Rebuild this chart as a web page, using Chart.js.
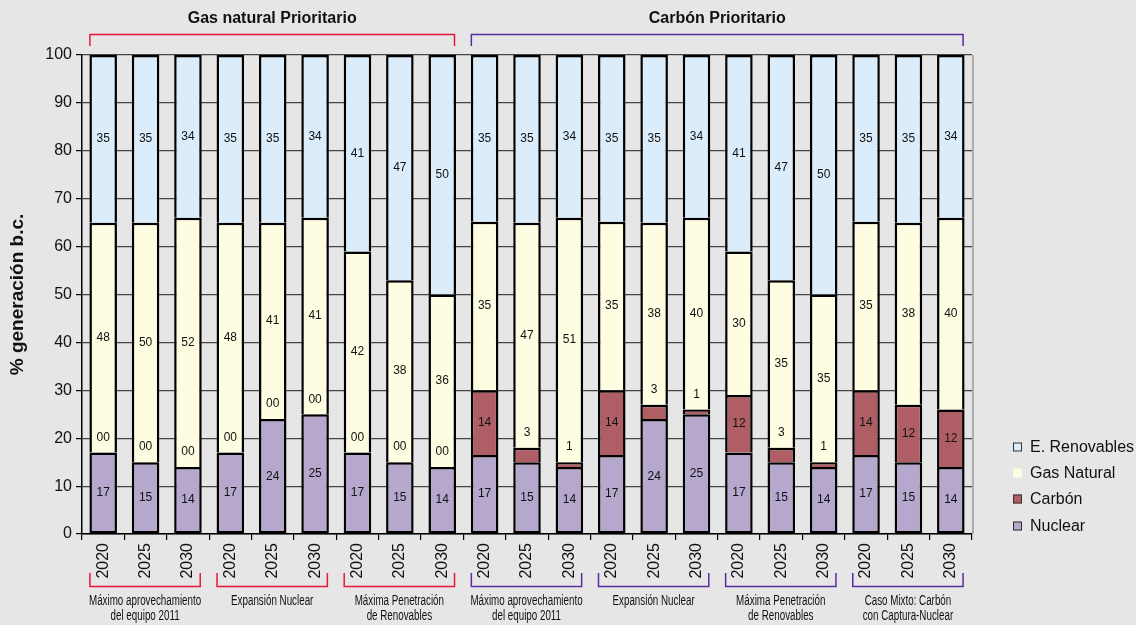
<!DOCTYPE html>
<html>
<head>
<meta charset="utf-8">
<script src="https://cdn.jsdelivr.net/npm/chart.js@4/dist/chart.umd.min.js"></script>
<style>
  html, body { margin: 0; padding: 0; background: #e6e6e6; }
  #wrap { width: 1136px; height: 625px; }
</style>
</head>
<body>
<div id="wrap"><canvas id="chart" width="1136" height="625"></canvas></div>
<script>
// ---- data ----
const years = ['2020', '2025', '2030'];
const policyNames = ['Gas natural Prioritario', 'Carbón Prioritario'];
const policyScenarioCount = [3, 4];
const scenarioNames = [
  ['Máximo aprovechamiento', 'del equipo 2011'],
  ['Expansión Nuclear'],
  ['Máxima Penetración', 'de Renovables'],
  ['Máximo aprovechamiento', 'del equipo 2011'],
  ['Expansión Nuclear'],
  ['Máxima Penetración', 'de Renovables'],
  ['Caso Mixto: Carbón', 'con Captura-Nuclear']
];
const seriesNames = ['Nuclear', 'Carbón', 'Gas Natural', 'E. Renovables'];

const nuclear    = [17, 15, 14, 17, 24, 25, 17, 15, 14,   16.5, 15, 14, 16.5, 24, 25, 17, 15, 14, 16.5, 15, 14];
const carbon     = [ 0,  0,  0,  0,  0,  0,  0,  0,  0,   13.5,  3,  1, 13.5,  3,  1, 12,  3,  1, 13.5, 12, 12];
const gasNatural = [48, 50, 52, 48, 41, 41, 42, 38, 36,   35.2, 47, 51, 35.2, 38, 40, 30, 35, 35, 35.2, 38, 40];
const renovables = [35, 35, 34, 35, 35, 34, 41, 47, 50,   34.8, 35, 34, 34.8, 35, 34, 41, 47, 50, 34.8, 35, 34];

const categories = [];
scenarioNames.forEach(() => years.forEach(y => categories.push(y)));

// ---- styles ----
const fills = ['#b5a8cc', '#b05e66', '#fefde2', '#dbedfa'];
const policyColors = ['#e8163c', '#5a2ca0'];
const FONT = '"Liberation Sans", Arial, Helvetica, sans-serif';
const BW = 2.5;

const datasets = [nuclear, carbon, gasNatural, renovables].map((values, k) => ({
  label: seriesNames[k],
  data: values,
  backgroundColor: fills[k],
  borderColor: '#000',
  borderSkipped: false,
  borderWidth: k === 0 ? { top: BW, left: BW, right: BW, bottom: BW }
                       : { top: BW, left: BW, right: BW, bottom: 0 },
  barPercentage: 0.65,
  categoryPercentage: 1.0
}));

// values written on the bar segments
const segmentLabels = {
  id: 'segmentLabels',
  afterDatasetsDraw(chart) {
    const ctx = chart.ctx;
    ctx.save();
    ctx.font = '12px ' + FONT;
    ctx.fillStyle = '#111';
    ctx.textAlign = 'center';
    ctx.textBaseline = 'middle';
    chart.data.datasets.forEach((ds, di) => {
      chart.getDatasetMeta(di).data.forEach((bar, i) => {
        const v = ds.data[i];
        const text = v === 0 ? '00' : String(Math.round(v));
        const y = v < 5 ? Math.min(bar.y, bar.base) - 15 : (bar.y + bar.base) / 2;
        ctx.fillText(text, bar.x, y);
      });
    });
    ctx.restore();
  }
};

// right frame line, group brackets, scenario captions and legend
const decorations = {
  id: 'decorations',
  beforeDatasetsDraw(chart) {
    const { ctx, chartArea: a } = chart;
    ctx.save();
    ctx.strokeStyle = '#9a9a9a';
    ctx.lineWidth = 1.5;
    ctx.beginPath();
    ctx.moveTo(a.right + 1, a.top);
    ctx.lineTo(a.right + 1, a.bottom);
    ctx.stroke();
    ctx.restore();
  },
  afterDraw(chart) {
    const { ctx, chartArea: a } = chart;
    const bars = chart.getDatasetMeta(0).data;
    const leftOf = i => bars[i].x - bars[i].width / 2 + 0.5;
    const rightOf = i => bars[i].x + bars[i].width / 2 - 1.5;
    ctx.save();

    // policy brackets above the plot
    let scen = 0;
    policyNames.forEach((name, p) => {
      const first = scen * 3;
      const last = (scen + policyScenarioCount[p]) * 3 - 1;
      const x0 = leftOf(first), x1 = rightOf(last);
      ctx.strokeStyle = policyColors[p];
      ctx.lineWidth = 1.5;
      ctx.beginPath();
      ctx.moveTo(x0, 46); ctx.lineTo(x0, 34.5); ctx.lineTo(x1, 34.5); ctx.lineTo(x1, 46);
      ctx.stroke();
      ctx.fillStyle = '#111';
      ctx.font = 'bold 16px ' + FONT;
      ctx.textAlign = 'center';
      ctx.textBaseline = 'middle';
      ctx.fillText(name, (x0 + x1) / 2, 19);

      // scenario brackets and captions below the year labels
      for (let s = scen; s < scen + policyScenarioCount[p]; s++) {
        const bx0 = leftOf(s * 3), bx1 = rightOf(s * 3 + 2);
        ctx.strokeStyle = policyColors[p];
        ctx.lineWidth = 1.5;
        ctx.beginPath();
        ctx.moveTo(bx0, 573); ctx.lineTo(bx0, 586.5); ctx.lineTo(bx1, 586.5); ctx.lineTo(bx1, 573);
        ctx.stroke();
        ctx.fillStyle = '#111';
        ctx.font = '14px ' + FONT;
        const cx = (bx0 + bx1) / 2;
        scenarioNames[s].forEach((line, li) => {
          ctx.save();
          ctx.translate(cx, 601 + li * 15.5);
          ctx.scale(0.7, 1);
          ctx.fillText(line, 0, 0);
          ctx.restore();
        });
      }
      scen += policyScenarioCount[p];
    });

    // legend, top entry first
    const legendX = a.right + 41;
    const legendY = [447, 473, 499, 526];
    ctx.font = '16px ' + FONT;
    ctx.textAlign = 'left';
    ctx.textBaseline = 'middle';
    [3, 2, 1, 0].forEach((k, row) => {
      const y = legendY[row];
      ctx.fillStyle = fills[k];
      ctx.fillRect(legendX, y - 4.5, 9, 9);
      if (k !== 2) {
        ctx.strokeStyle = '#333';
        ctx.lineWidth = 1;
        ctx.strokeRect(legendX + 0.5, y - 4, 8, 8);
      }
      ctx.fillStyle = '#111';
      ctx.fillText(seriesNames[k], legendX + 17, y + 1);
    });
    ctx.restore();
  }
};

new Chart(document.getElementById('chart'), {
  type: 'bar',
  data: { labels: categories, datasets },
  plugins: [segmentLabels, decorations],
  options: {
    responsive: false,
    animation: false,
    devicePixelRatio: 1,
    layout: { padding: { top: 55, right: 164, bottom: 0, left: 0 } },
    plugins: { legend: { display: false }, tooltip: { enabled: false } },
    scales: {
      x: {
        stacked: true,
        afterFit(scale) { scale.height = 91; },
        grid: { drawOnChartArea: false, drawTicks: true, tickLength: 6, tickColor: '#000', lineWidth: 1.2 },
        border: { display: true, color: '#000', width: 1.5 },
        ticks: {
          autoSkip: false, minRotation: 90, maxRotation: 90, padding: 3,
          color: '#111', font: { family: FONT, size: 16 }
        }
      },
      y: {
        stacked: true,
        min: 0, max: 100,
        afterFit(scale) { scale.width = 82; },
        ticks: { stepSize: 10, padding: 4, color: '#111', font: { family: FONT, size: 16 } },
        grid: { color: '#444', lineWidth: 1.2, tickLength: 6, tickColor: '#000' },
        border: { display: true, color: '#000', width: 1.5 },
        title: {
          display: true, text: '% generación b.c.', color: '#111',
          font: { family: FONT, size: 19, weight: 'bold' },
          padding: { top: 6, bottom: 0 }
        }
      }
    }
  }
});
</script>
</body>
</html>
